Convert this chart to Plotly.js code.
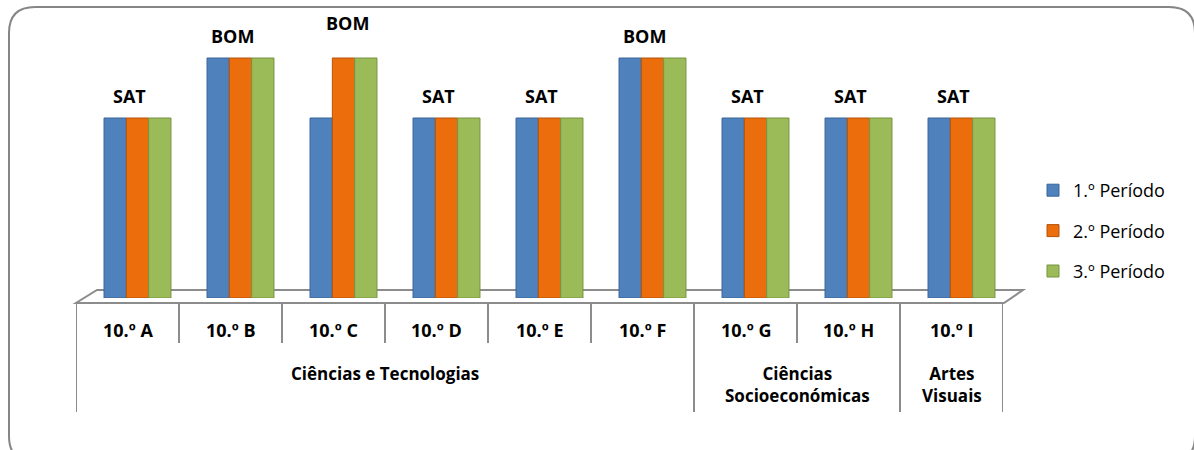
<!DOCTYPE html>
<html>
<head>
<meta charset="utf-8">
<script src="https://cdn.plot.ly/plotly-3.0.1.min.js"></script>
<style>
  html, body { margin: 0; padding: 0; background: #ffffff; }
  #chart { width: 1194px; height: 450px; }
</style>
</head>
<body>
<div id="chart"></div>
<script>
// ---------------- data ----------------
const classes = ["10.º A", "10.º B", "10.º C", "10.º D", "10.º E", "10.º F", "10.º G", "10.º H", "10.º I"];
const seriesNames = ["1.º Período", "2.º Período", "3.º Período"];
const periodo1 = [3, 4, 3, 3, 3, 4, 3, 3, 3];
const periodo2 = [3, 4, 4, 3, 3, 4, 3, 3, 3];
const periodo3 = [3, 4, 4, 3, 3, 4, 3, 3, 3];
const classLabels = ["SAT", "BOM", "BOM", "SAT", "SAT", "BOM", "SAT", "SAT", "SAT"];
const groupNames = ["Ciências e Tecnologias", "Ciências<br>Socioeconómicas", "Artes<br>Visuais"];
const groupSizes = [6, 2, 1];

// ---------------- styles ----------------
const W = 1194, H = 450;
const px = v => v / W;          // pixel -> paper x
const py = v => 1 - v / H;      // pixel -> paper y
const colors = ["#4F81BD", "#EC6D0C", "#9BBB59"];
const lineColors = ["#3A6597", "#B4530A", "#779343"];
const FONT = "'Open Sans', 'Noto Sans', sans-serif";
const gridColor = "#8C8C8C";
// manual nudges of the value labels (pixels)
const labelNudge = { "10.º C": { dx: 12, dy: 13 } };

const allSeries = [periodo1, periodo2, periodo3];
const traces = allSeries.map((vals, i) => ({
  type: "bar",
  x: classes,
  y: vals,
  name: seriesNames[i],
  legendgroup: "g" + i,
  marker: { color: colors[i], line: { color: lineColors[i], width: 1 } },
  hoverinfo: "skip"
}));

// invisible trace to create the table axis
traces.push({
  type: "scatter", x: classes, y: classes.map(() => 0), xaxis: "x2", yaxis: "y",
  mode: "none", showlegend: false, hoverinfo: "skip"
});

const annotations = [];
classes.forEach((c, i) => {
  const top = Math.max(periodo1[i], periodo2[i], periodo3[i]);
  const n = labelNudge[c] || { dx: 0, dy: 0 };
  annotations.push({
    xref: "x", yref: "y", x: c, y: top, text: "<b>" + classLabels[i] + "</b>",
    showarrow: false, xanchor: "center", yanchor: "middle",
    xshift: -8 + n.dx, yshift: 22 + n.dy,
    font: { family: FONT, size: 18, color: "#000" }
  });
  annotations.push({
    xref: "x2", yref: "paper", x: i, y: py(330), text: "<b>" + c + "</b>",
    showarrow: false, xanchor: "center", yanchor: "middle",
    font: { family: FONT, size: 18, color: "#000" }
  });
});

const shapes = [];
let start = 0;
groupNames.forEach((g, k) => {
  const end = start + groupSizes[k] - 1;
  annotations.push({
    xref: "x2", yref: "paper", x: (start + end) / 2, y: py(372), text: "<b>" + g + "</b>",
    showarrow: false, xanchor: "center", yanchor: "top", yshift: 12,
    font: { family: FONT, size: 17, color: "#000" }
  });
  start = end + 1;
});

const groupEdges = [0];
groupSizes.reduce((acc, s) => { groupEdges.push(acc + s); return acc + s; }, 0);
for (let b = 0; b <= classes.length; b++) {
  const isGroupEdge = groupEdges.includes(b);
  shapes.push({
    type: "line", xref: "x2", yref: "paper",
    x0: b - 0.5, x1: b - 0.5, y0: py(303), y1: py(isGroupEdge ? 412 : 343),
    line: { color: gridColor, width: 2 }, layer: "below"
  });
}

// floor (3D base plate)
shapes.push({
  type: "path", xref: "paper", yref: "paper",
  path: `M ${px(76)} ${py(303)} L ${px(1004)} ${py(303)} L ${px(1023)} ${py(290)} L ${px(97)} ${py(290)} Z`,
  fillcolor: "#ffffff", line: { color: gridColor, width: 2 }, layer: "below"
});

// rounded outer frame
const r = 26, L = 9, T = 7, R = 1194 + 1, B = 450 + 12;
shapes.push({
  type: "path", xref: "paper", yref: "paper",
  path: `M ${px(L)} ${py(T + r)} Q ${px(L)} ${py(T)} ${px(L + r)} ${py(T)} L ${px(R - r)} ${py(T)} Q ${px(R)} ${py(T)} ${px(R)} ${py(T + r)} L ${px(R)} ${py(B - r)} Q ${px(R)} ${py(B)} ${px(R - r)} ${py(B)} L ${px(L + r)} ${py(B)} Q ${px(L)} ${py(B)} ${px(L)} ${py(B - r)} Z`,
  fillcolor: "rgba(0,0,0,0)", line: { color: "#868686", width: 2 }, layer: "below"
});

const layout = {
  width: W, height: H,
  margin: { l: 0, r: 0, t: 0, b: 0 },
  paper_bgcolor: "#ffffff", plot_bgcolor: "rgba(0,0,0,0)",
  barmode: "group", bargap: 0.35, bargroupgap: 0,
  showlegend: true,
  legend: {
    x: px(1033), y: py(172), xanchor: "left", yanchor: "top",
    traceorder: "grouped", tracegroupgap: 14,
    font: { family: FONT, size: 18, color: "#000" },
    bgcolor: "rgba(0,0,0,0)"
  },
  xaxis: {
    domain: [px(86), px(1013)], type: "category", range: [-0.5, 8.5],
    showticklabels: false, showgrid: false, zeroline: false, showline: false, ticks: "", fixedrange: true
  },
  xaxis2: {
    domain: [px(76), px(1003)], type: "category", range: [-0.5, 8.5], anchor: "y",
    showticklabels: false, showgrid: false, zeroline: false, showline: false, ticks: "", fixedrange: true
  },
  yaxis: {
    domain: [py(298), py(28)], range: [0, 4.5],
    showticklabels: false, showgrid: false, zeroline: false, showline: false, ticks: "", fixedrange: true
  },
  annotations: annotations,
  shapes: shapes
};

Plotly.newPlot("chart", traces, layout, { displayModeBar: false, staticPlot: true });
</script>
</body>
</html>
